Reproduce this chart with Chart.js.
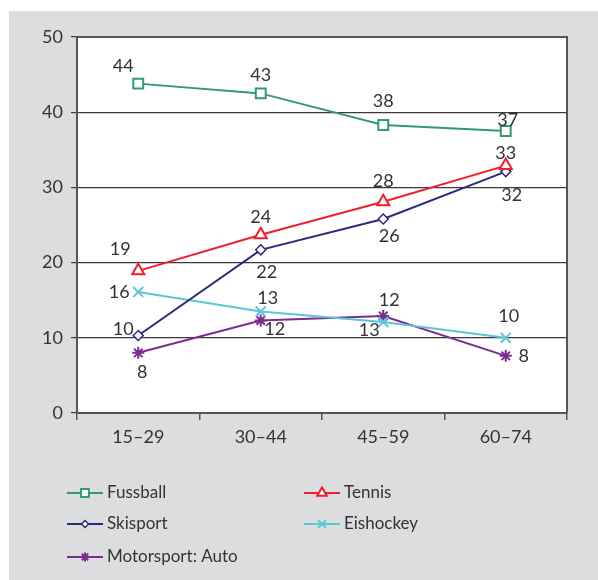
<!DOCTYPE html>
<html lang="de">
<head>
    <meta charset="UTF-8">
    <title>Sportarten nach Altersgruppen</title>
    <script src="https://cdn.jsdelivr.net/npm/chart.js"></script>
    <style>
        html, body { margin: 0; padding: 0; background: #ffffff; }
        .panel {
            position: absolute;
            left: 9px;
            top: 11px;
            width: 589px;
            height: 569px;
            background: #dcdddf;
        }
    </style>
</head>
<body>
    <div class="panel">
        <canvas id="sportChart" width="589" height="569"></canvas>
    </div>
    <script>
        // Altersgruppen
        const categories = ['15–29', '30–44', '45–59', '60–74'];

        // Werte
        const fussball   = [43.8, 42.5, 38.3, 37.5];
        const tennis     = [18.9, 23.7, 28.1, 32.9];
        const skisport   = [10.3, 21.7, 25.8, 32.1];
        const eishockey  = [16.1, 13.5, 12.1, 10.0];
        const motorsport = [8.0, 12.3, 12.9, 7.6];

        // Beschriftungen der Punkte, so wie sie im Bild stehen
        const fussballText   = ['44', '43', '38', '37'];
        const tennisText     = ['19', '24', '28', '33'];
        const skisportText   = ['10', '22', '26', '32'];
        const eishockeyText  = ['16', '13', '13', '10'];
        const motorsportText = ['8', '12', '12', '8'];

        // y-Achse
        const yMin = 0;
        const yMax = 50;
        const yStep = 10;

        // Versatz der Beschriftung zum Punkt (dx, dy)
        const labelOffsets = {
            'Fussball':         [[-15, -17], [0, -18], [0, -24], [2, -11]],
            'Tennis':           [[-18, -22], [0, -18], [0, -21], [0, -12]],
            'Skisport':         [[-15, -6], [6, 22], [6, 17], [6, 24]],
            'Eishockey':        [[-19, 0], [7, -13], [-14, 8], [3, -22]],
            'Motorsport: Auto': [[4, 19], [14, 9], [6, -16], [18, 0]]
        };

        const textColor = '#333333';
        const fontFamily = 'Lato, "Open Sans", sans-serif';

        function series(label, data, texts, color, pointStyle, radius, borderW) {
            return {
                label: label,
                data: data,
                texts: texts,
                borderColor: color,
                backgroundColor: color,
                borderWidth: 2,
                pointStyle: pointStyle,
                pointRadius: radius,
                pointHoverRadius: radius,
                pointBorderWidth: borderW,
                pointBackgroundColor: '#ffffff',
                pointBorderColor: color,
                tension: 0
            };
        }

        // Weisser Plotbereich + Rahmen oben/rechts
        const plotFrame = {
            id: 'plotFrame',
            beforeDraw(chart) {
                const { ctx, chartArea: a } = chart;
                ctx.save();
                ctx.fillStyle = '#ffffff';
                ctx.fillRect(a.left, a.top, a.right - a.left, a.bottom - a.top);
                ctx.restore();
            },
            afterDraw(chart) {
                const { ctx, chartArea: a } = chart;
                ctx.save();
                ctx.strokeStyle = '#555555';
                ctx.lineWidth = 2;
                ctx.beginPath();
                ctx.moveTo(a.left, a.top);
                ctx.lineTo(a.right, a.top);
                ctx.lineTo(a.right, a.bottom);
                ctx.stroke();
                ctx.restore();
            }
        };

        // Werte an den Punkten
        const pointTexts = {
            id: 'pointTexts',
            afterDatasetsDraw(chart) {
                const ctx = chart.ctx;
                ctx.save();
                ctx.font = '18px ' + fontFamily;
                ctx.fillStyle = textColor;
                ctx.textAlign = 'center';
                ctx.textBaseline = 'middle';
                chart.data.datasets.forEach((ds, i) => {
                    const meta = chart.getDatasetMeta(i);
                    const offs = labelOffsets[ds.label];
                    meta.data.forEach((pt, j) => {
                        const o = offs[j];
                        ctx.fillText(ds.texts[j], pt.x + o[0], pt.y + o[1]);
                    });
                });
                ctx.restore();
            }
        };

        // Legende in zwei Spalten
        const gridLegend = {
            id: 'gridLegend',
            afterDraw(chart) {
                const ctx = chart.ctx;
                const colX = [58, 295];
                const rowY = [482, 513, 546];
                const lineLen = 36;
                ctx.save();
                ctx.textBaseline = 'middle';
                ctx.textAlign = 'left';
                chart.data.datasets.forEach((ds, i) => {
                    const x = colX[i % 2];
                    const y = rowY[Math.floor(i / 2)];
                    ctx.strokeStyle = ds.borderColor;
                    ctx.lineWidth = 2;
                    ctx.beginPath();
                    ctx.moveTo(x, y);
                    ctx.lineTo(x + lineLen, y);
                    ctx.stroke();
                    ctx.fillStyle = '#ffffff';
                    ctx.strokeStyle = ds.borderColor;
                    ctx.lineWidth = ds.pointBorderWidth;
                    Chart.helpers.drawPoint(ctx, {
                        pointStyle: ds.pointStyle,
                        radius: Math.max(ds.pointRadius - 1.5, 3.5),
                        borderWidth: ds.pointBorderWidth,
                        rotation: 0
                    }, x + lineLen / 2, y);
                    ctx.font = '17px ' + fontFamily;
                    ctx.fillStyle = textColor;
                    ctx.fillText(ds.label, x + lineLen + 4, y);
                });
                ctx.restore();
            }
        };

        const ctx = document.getElementById('sportChart').getContext('2d');
        new Chart(ctx, {
            type: 'line',
            data: {
                labels: categories,
                datasets: [
                    series('Fussball', fussball, fussballText, '#339a6c', 'rect', 7, 2),
                    series('Tennis', tennis, tennisText, '#f21d2a', 'triangle', 7, 2),
                    series('Skisport', skisport, skisportText, '#2d2a7c', 'rectRot', 5, 1.5),
                    series('Eishockey', eishockey, eishockeyText, '#5cc6d6', 'crossRot', 7, 2),
                    series('Motorsport: Auto', motorsport, motorsportText, '#7c2b8f', 'star', 6, 2)
                ]
            },
            options: {
                responsive: false,
                animation: false,
                events: [],
                layout: {
                    padding: { left: 0, top: 26, right: 31, bottom: 0 }
                },
                plugins: {
                    legend: { display: false },
                    tooltip: { enabled: false }
                },
                scales: {
                    x: {
                        offset: true,
                        afterFit(scale) { scale.height = 167; },
                        border: { color: '#555555', width: 2 },
                        grid: {
                            offset: true,
                            drawOnChartArea: false,
                            drawTicks: true,
                            tickLength: 7,
                            color: '#555555',
                            lineWidth: 1.5
                        },
                        ticks: {
                            color: textColor,
                            padding: 6,
                            font: { family: fontFamily, size: 18 }
                        }
                    },
                    y: {
                        min: yMin,
                        max: yMax,
                        afterFit(scale) { scale.width = 68; },
                        border: { color: '#555555', width: 2 },
                        grid: {
                            color: '#3a3a3a',
                            lineWidth: 1.2,
                            tickLength: 6
                        },
                        ticks: {
                            stepSize: yStep,
                            color: textColor,
                            padding: 8,
                            font: { family: fontFamily, size: 18 }
                        }
                    }
                }
            },
            plugins: [plotFrame, pointTexts, gridLegend]
        });
    </script>
</body>
</html>
